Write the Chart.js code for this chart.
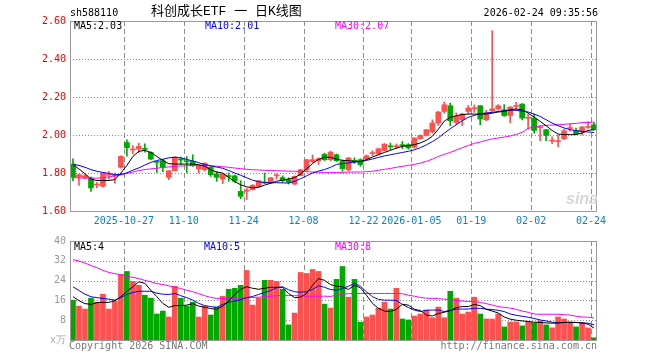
<!DOCTYPE html>
<html>
<head>
<meta charset="utf-8">
<script src="https://cdn.jsdelivr.net/npm/chart.js@4.4.1/dist/chart.umd.min.js"></script>
<style>
  body { margin: 0; width: 660px; height: 360px; background: #fff; position: relative; overflow: hidden;
         font-family: 'DejaVu Sans Mono', monospace; font-size: 10px; }
  canvas { position: absolute; left: 0; }
  .t { position: absolute; white-space: nowrap; line-height: 12px; }
</style>
</head>
<body>
<canvas id="kChart" width="660" height="231" style="top:0"></canvas>
<canvas id="volChart" width="660" height="129" style="top:231px"></canvas>

<div class="t" style="left:70px;top:7px;color:#000">sh588110</div>
<div class="t" style="left:151px;top:4px;font-family:'Liberation Mono','Noto Sans CJK SC';font-size:13px;line-height:16px;color:#000">科创成长ETF 一 日K线图</div>
<div class="t" style="right:62px;top:7px;color:#000">2026-02-24 09:35:56</div>

<div class="t" style="left:74px;top:20px;color:#000">MA5:2.03</div>
<div class="t" style="left:205px;top:20px;color:#0000ff">MA10:2.01</div>
<div class="t" style="left:335px;top:20px;color:#ff00ff">MA30:2.07</div>

<div class="t" style="left:566px;top:191px;font-family:'Liberation Sans';font-weight:bold;font-style:italic;font-size:16px;line-height:16px;color:#d6d6d6">sina</div>

<div class="t" style="left:74px;top:241px;color:#000">MA5:4</div>
<div class="t" style="left:204px;top:241px;color:#0000ff">MA10:5</div>
<div class="t" style="left:335px;top:241px;color:#ff00ff">MA30:8</div>

<div class="t" style="left:50px;top:334px;color:#aaa">x万</div>
<div class="t" style="left:69px;top:340px;color:#777">Copyright 2026 SINA.COM</div>
<div class="t" style="right:63px;top:340px;color:#777">http://finance.sina.com.cn</div>

<script>
// 日期刻度（交易日序号 -> 标签）
const tickIdx = [9, 19, 29, 39, 49, 57, 67, 77, 87];
const tickText = ['2025-10-27', '11-10', '11-24', '12-08', '12-22', '2026-01-05', '01-19', '02-02', '02-24'];

// K线数据
const open = [
  1.847, 1.779, 1.776, 1.773, 1.736, 1.730, 1.789, 1.784, 1.830, 1.960,
  1.921, 1.926, 1.928, 1.909, 1.860, 1.865, 1.777, 1.812, 1.872, 1.863,
  1.861, 1.821, 1.817, 1.830, 1.795, 1.768, 1.784, 1.785, 1.703, 1.705,
  1.712, 1.729, 1.750, 1.747, 1.785, 1.776, 1.765, 1.742, 1.786, 1.815,
  1.860, 1.865, 1.898, 1.870, 1.896, 1.861, 1.817, 1.866, 1.870, 1.874,
  1.902, 1.900, 1.918, 1.942, 1.938, 1.948, 1.949, 1.935, 1.981, 1.998,
  2.016, 2.063, 2.124, 2.154, 2.066, 2.080, 2.124, 2.138, 2.154, 2.080,
  2.128, 2.137, 2.133, 2.103, 2.150, 2.163, 2.088, 2.089, 2.038, 2.028,
  1.968, 1.965, 1.980, 2.034, 2.024, 2.016, 2.040, 2.054
];
const high = [
  1.875, 1.795, 1.792, 1.780, 1.751, 1.802, 1.809, 1.800, 1.890, 1.975,
  1.944, 1.958, 1.954, 1.912, 1.862, 1.873, 1.812, 1.885, 1.884, 1.887,
  1.896, 1.840, 1.855, 1.835, 1.808, 1.798, 1.800, 1.790, 1.760, 1.720,
  1.740, 1.760, 1.800, 1.777, 1.796, 1.785, 1.775, 1.785, 1.820, 1.872,
  1.895, 1.880, 1.905, 1.915, 1.900, 1.870, 1.882, 1.880, 1.875, 1.895,
  1.917, 1.930, 1.955, 1.958, 1.953, 1.966, 1.955, 1.986, 2.000, 2.030,
  2.080, 2.125, 2.174, 2.168, 2.116, 2.115, 2.155, 2.158, 2.156, 2.130,
  2.549, 2.160, 2.160, 2.150, 2.172, 2.165, 2.107, 2.110, 2.049, 2.030,
  1.990, 2.000, 2.030, 2.060, 2.036, 2.045, 2.070, 2.065
];
const low = [
  1.759, 1.735, 1.770, 1.703, 1.721, 1.725, 1.768, 1.747, 1.826, 1.888,
  1.900, 1.908, 1.910, 1.870, 1.803, 1.807, 1.765, 1.810, 1.844, 1.803,
  1.835, 1.800, 1.810, 1.782, 1.756, 1.744, 1.756, 1.750, 1.665, 1.660,
  1.710, 1.725, 1.744, 1.745, 1.768, 1.750, 1.742, 1.738, 1.785, 1.810,
  1.855, 1.845, 1.865, 1.865, 1.860, 1.809, 1.809, 1.850, 1.835, 1.870,
  1.891, 1.895, 1.915, 1.922, 1.928, 1.928, 1.925, 1.930, 1.978, 1.995,
  2.010, 2.050, 2.115, 2.049, 2.054, 2.050, 2.110, 2.120, 2.054, 2.075,
  2.120, 2.130, 2.098, 2.063, 2.133, 2.080, 2.031, 2.010, 1.970, 1.970,
  1.954, 1.937, 1.975, 2.020, 2.002, 2.000, 2.035, 2.025
];
const close = [
  1.777, 1.791, 1.786, 1.721, 1.740, 1.800, 1.793, 1.788, 1.888, 1.933,
  1.925, 1.940, 1.924, 1.873, 1.856, 1.830, 1.812, 1.884, 1.868, 1.859,
  1.838, 1.838, 1.850, 1.791, 1.777, 1.795, 1.781, 1.757, 1.677, 1.710,
  1.735, 1.759, 1.747, 1.775, 1.790, 1.760, 1.752, 1.782, 1.817, 1.870,
  1.870, 1.875, 1.870, 1.910, 1.865, 1.823, 1.879, 1.862, 1.844, 1.891,
  1.905, 1.928, 1.952, 1.938, 1.942, 1.944, 1.932, 1.984, 1.998, 2.028,
  2.063, 2.121, 2.159, 2.075, 2.098, 2.110, 2.142, 2.142, 2.084, 2.116,
  2.137, 2.154, 2.102, 2.147, 2.155, 2.089, 2.093, 2.024, 2.042, 1.998,
  1.972, 1.967, 2.022, 2.038, 2.007, 2.042, 2.044, 2.028
];

// 均线
const ma5 = [
  1.844, 1.821, 1.796, 1.768, 1.760, 1.761, 1.761, 1.765, 1.800, 1.840,
  1.887, 1.914, 1.919, 1.908, 1.887, 1.866, 1.849, 1.847, 1.847, 1.847,
  1.847, 1.844, 1.836, 1.817, 1.805, 1.800, 1.777, 1.755, 1.738, 1.727,
  1.722, 1.725, 1.736, 1.746, 1.756, 1.763, 1.768, 1.776, 1.794, 1.822,
  1.850, 1.872, 1.883, 1.882, 1.873, 1.866, 1.865, 1.861, 1.861, 1.870,
  1.884, 1.896, 1.908, 1.919, 1.931, 1.940, 1.944, 1.949, 1.958, 1.972,
  1.993, 2.030, 2.073, 2.093, 2.101, 2.108, 2.110, 2.110, 2.110, 2.110,
  2.115, 2.121, 2.124, 2.133, 2.137, 2.133, 2.115, 2.094, 2.072, 2.049,
  2.024, 2.005, 2.002, 2.002, 2.002, 2.010, 2.024, 2.028
];
const ma10 = [
  1.845, 1.840, 1.830, 1.818, 1.809, 1.803, 1.798, 1.791, 1.793, 1.801,
  1.815, 1.827, 1.842, 1.856, 1.866, 1.872, 1.880, 1.883, 1.880, 1.871,
  1.864, 1.854, 1.845, 1.838, 1.831, 1.825, 1.813, 1.800, 1.788, 1.775,
  1.762, 1.754, 1.750, 1.749, 1.749, 1.748, 1.747, 1.756, 1.770, 1.785,
  1.800, 1.810, 1.818, 1.830, 1.845, 1.850, 1.853, 1.857, 1.860, 1.866,
  1.874, 1.882, 1.890, 1.896, 1.902, 1.908, 1.914, 1.922, 1.933, 1.948,
  1.965, 1.985, 2.010, 2.033, 2.054, 2.075, 2.093, 2.103, 2.112, 2.116,
  2.119, 2.124, 2.128, 2.130, 2.130, 2.126, 2.121, 2.110, 2.098, 2.080,
  2.063, 2.049, 2.037, 2.028, 2.023, 2.019, 2.016, 2.013
];
const ma30 = [
  1.776, 1.774, 1.773, 1.772, 1.773, 1.775, 1.779, 1.785, 1.790, 1.798,
  1.805, 1.813, 1.818, 1.822, 1.825, 1.829, 1.832, 1.835, 1.837, 1.838,
  1.839, 1.839, 1.838, 1.838, 1.836, 1.833, 1.830, 1.826, 1.823, 1.819,
  1.817, 1.816, 1.814, 1.813, 1.812, 1.811, 1.810, 1.809, 1.808, 1.807,
  1.805, 1.804, 1.803, 1.803, 1.803, 1.803, 1.805, 1.805, 1.805, 1.807,
  1.809, 1.814, 1.819, 1.824, 1.830, 1.835, 1.840, 1.845, 1.852, 1.861,
  1.873, 1.887, 1.898, 1.908, 1.921, 1.933, 1.945, 1.956, 1.963, 1.972,
  1.979, 1.984, 1.989, 1.995, 2.003, 2.014, 2.035, 2.042, 2.047, 2.051,
  2.052, 2.054, 2.056, 2.059, 2.061, 2.065, 2.066, 2.068
];

// 成交量（万）
const vol = [
  16.1, 13.7, 12.5, 16.9, 15.3, 18.5, 12.5, 15.7, 26.5, 27.7,
  23.7, 22.1, 18.1, 16.9, 10.5, 11.7, 9.3, 21.7, 16.9, 13.7,
  15.3, 9.3, 13.7, 10.1, 13.3, 17.7, 20.5, 20.9, 22.1, 28.1,
  14.1, 16.9, 24.1, 24.1, 23.7, 20.5, 6.1, 10.9, 27.3, 26.9,
  28.5, 27.7, 14.5, 12.9, 24.5, 29.7, 17.3, 24.5, 7.2, 9.3,
  10.1, 12.8, 15.3, 12.5, 20.9, 8.5, 8.1, 9.7, 10.5, 12.1,
  9.0, 13.3, 9.0, 19.7, 16.9, 10.5, 11.3, 17.3, 10.5, 8.5,
  8.5, 10.5, 5.3, 7.3, 7.3, 5.7, 7.3, 6.9, 7.7, 6.1,
  4.9, 9.3, 8.5, 7.3, 5.3, 6.9, 4.9, 0.9
];
const volMa5 = [
  17.5, 15.9, 14.7, 14.4, 15.1, 15.2, 15.2, 15.9, 17.5, 19.7,
  21.5, 23.5, 22.9, 20.1, 17.5, 14.8, 13.2, 13.9, 13.9, 14.1,
  14.7, 13.7, 13.2, 12.7, 12.4, 13.7, 15.7, 18.4, 20.5, 21.5,
  20.9, 20.5, 20.9, 21.3, 21.3, 21.3, 18.8, 17.1, 17.3, 18.8,
  22.1, 24.8, 24.1, 22.4, 21.7, 21.5, 20.4, 22.1, 21.1, 18.1,
  14.8, 12.8, 11.7, 11.5, 12.4, 14.4, 14.1, 12.4, 11.9, 10.1,
  9.7, 10.7, 11.2, 11.9, 13.1, 13.5, 13.5, 14.4, 13.9, 12.4,
  11.7, 10.9, 9.3, 8.4, 8.0, 7.7, 7.5, 7.2, 7.1, 6.9,
  6.8, 6.9, 7.1, 7.1, 7.1, 6.9, 6.4, 4.8
];
const volMa10 = [
  21.5, 20.0, 18.5, 17.5, 17.1, 16.8, 16.5, 16.1, 17.2, 18.4,
  19.2, 19.7, 19.7, 19.7, 18.9, 18.5, 18.4, 18.8, 17.9, 17.1,
  16.1, 14.8, 13.9, 13.5, 13.2, 14.4, 15.3, 15.7, 16.3, 17.1,
  17.6, 18.4, 19.2, 20.0, 21.1, 21.5, 20.3, 19.5, 19.3, 19.5,
  20.4, 21.9, 21.3, 20.4, 20.1, 20.8, 21.7, 22.9, 21.7, 19.5,
  17.5, 16.4, 16.1, 16.1, 16.0, 14.4, 13.1, 12.1, 11.5, 12.0,
  12.1, 12.1, 11.5, 11.9, 12.5, 12.5, 12.5, 12.8, 12.8, 12.5,
  12.3, 12.0, 11.5, 10.5, 10.0, 9.6, 9.2, 8.7, 8.1, 7.7,
  7.2, 6.9, 7.1, 7.1, 7.1, 6.9, 6.8, 6.1
];
const volMa30 = [
  32.5, 31.9, 31.1, 30.1, 29.2, 28.1, 27.3, 26.8, 26.3, 25.7,
  25.3, 24.8, 24.1, 23.5, 22.8, 22.4, 21.9, 21.3, 20.8, 20.1,
  19.5, 18.7, 17.9, 17.2, 16.8, 16.8, 16.8, 16.8, 16.9, 17.1,
  17.2, 17.3, 17.5, 17.7, 17.9, 18.0, 18.0, 17.9, 17.9, 17.7,
  17.7, 17.7, 17.7, 17.6, 18.1, 18.5, 18.7, 18.8, 18.8, 18.8,
  18.8, 18.8, 18.8, 18.8, 18.8, 18.7, 18.1, 17.7, 17.2, 16.9,
  16.8, 16.7, 16.5, 16.3, 16.0, 15.7, 15.6, 15.5, 15.2, 14.7,
  14.1, 13.5, 13.2, 12.9, 12.4, 11.7, 11.2, 10.5, 10.4, 10.4,
  10.4, 10.4, 10.2, 10.1, 9.6, 9.3, 9.2, 8.9
];

const UP = '#ff5050';
const DOWN = '#00a800';
const N = close.length;
const idx = [...Array(N).keys()];
const candleColor = idx.map(i => close[i] >= open[i] ? UP : DOWN);
const pts = arr => idx.map(i => ({ x: i + 0.5, y: arr[i] }));

Chart.defaults.font.family = "'DejaVu Sans Mono', monospace";
Chart.defaults.font.size = 10;

// 网格线：竖向虚线、横向点线（按刻度位置画）
const gridPlugin = {
    id: 'dashGrid',
    beforeDatasetsDraw(chart) {
        const { ctx, chartArea: a, scales } = chart;
        const xs = scales.x, ys = scales.y;
        ctx.save();
        ctx.strokeStyle = '#8c8c8c';
        ctx.lineWidth = 1;
        ctx.setLineDash([5, 3]);
        xs.ticks.forEach(t => {
            const px = Math.round(xs.getPixelForValue(t.value)) + 0.5;
            ctx.beginPath();
            ctx.moveTo(px, a.top);
            ctx.lineTo(px, a.bottom);
            ctx.stroke();
        });
        ctx.setLineDash([1, 2]);
        ys.ticks.forEach(t => {
            const py = Math.round(ys.getPixelForValue(t.value)) + 0.5;
            if (py < a.top + 2 || py > a.bottom - 2) return;
            ctx.beginPath();
            ctx.moveTo(a.left, py);
            ctx.lineTo(a.right, py);
            ctx.stroke();
        });
        ctx.restore();
    }
};

// 外框
const framePlugin = {
    id: 'frame',
    afterDraw(chart) {
        const { ctx, chartArea: a } = chart;
        ctx.save();
        ctx.strokeStyle = '#999';
        ctx.lineWidth = 1;
        ctx.strokeRect(Math.round(a.left) + 0.5, Math.round(a.top) + 0.5,
            Math.round(a.right - a.left) - 1, Math.round(a.bottom - a.top));
        ctx.restore();
    }
};

function xScale(showLabels) {
    return {
        type: 'linear',
        min: 0,
        max: N,
        offset: false,
        afterBuildTicks: s => { s.ticks = tickIdx.map(v => ({ value: v })); },
        afterFit: s => { s.height = 20; },
        ticks: {
            display: showLabels,
            autoSkip: false,
            maxRotation: 0,
            padding: 4,
            color: '#0a80cc',
            callback: v => tickText[tickIdx.indexOf(v)]
        },
        grid: { display: false, drawTicks: false, offset: false },
        border: { display: false }
    };
}

function lineSet(data, color) {
    return { type: 'line', data: data, borderColor: color, borderWidth: 1,
             pointRadius: 0, tension: 0, order: 0 };
}

// 价格图
new Chart(document.getElementById('kChart'), {
    type: 'bar',
    data: {
        datasets: [
            lineSet(pts(ma5), '#000000'),
            lineSet(pts(ma10), '#0000ff'),
            lineSet(pts(ma30), '#ff00ff'),
            {
                data: idx.map(i => ({ x: i + 0.5, y: [open[i], close[i]] })),
                backgroundColor: candleColor,
                barThickness: 5,
                minBarLength: 1,
                grouped: false,
                order: 1
            },
            {
                data: idx.map(i => ({ x: i + 0.5, y: [low[i], high[i]] })),
                backgroundColor: candleColor,
                barThickness: 1,
                grouped: false,
                order: 2
            }
        ]
    },
    options: {
        responsive: false,
        animation: false,
        devicePixelRatio: 1,
        layout: { padding: { left: 0, right: 63, top: 21, bottom: 0 } },
        plugins: { legend: { display: false }, tooltip: { enabled: false } },
        scales: {
            x: xScale(true),
            y: {
                min: 1.6,
                max: 2.6,
                afterFit: s => { s.width = 70; },
                ticks: { stepSize: 0.2, padding: 4, color: '#f00000', callback: v => v.toFixed(2) },
                grid: { display: false, drawTicks: false },
                border: { display: false }
            }
        }
    },
    plugins: [gridPlugin, framePlugin]
});

// 成交量图
new Chart(document.getElementById('volChart'), {
    type: 'bar',
    data: {
        datasets: [
            lineSet(pts(volMa5), '#000000'),
            lineSet(pts(volMa10), '#0000ff'),
            lineSet(pts(volMa30), '#ff00ff'),
            {
                data: pts(vol),
                backgroundColor: candleColor,
                barThickness: 5,
                grouped: false,
                order: 1
            }
        ]
    },
    options: {
        responsive: false,
        animation: false,
        devicePixelRatio: 1,
        layout: { padding: { left: 0, right: 63, top: 10, bottom: 0 } },
        plugins: { legend: { display: false }, tooltip: { enabled: false } },
        scales: {
            x: xScale(false),
            y: {
                min: 0,
                max: 40,
                afterFit: s => { s.width = 70; },
                ticks: { stepSize: 8, padding: 4, color: '#999', callback: v => v === 0 ? '' : v },
                grid: { display: false, drawTicks: false },
                border: { display: false }
            }
        }
    },
    plugins: [gridPlugin, framePlugin]
});
</script>
</body>
</html>
